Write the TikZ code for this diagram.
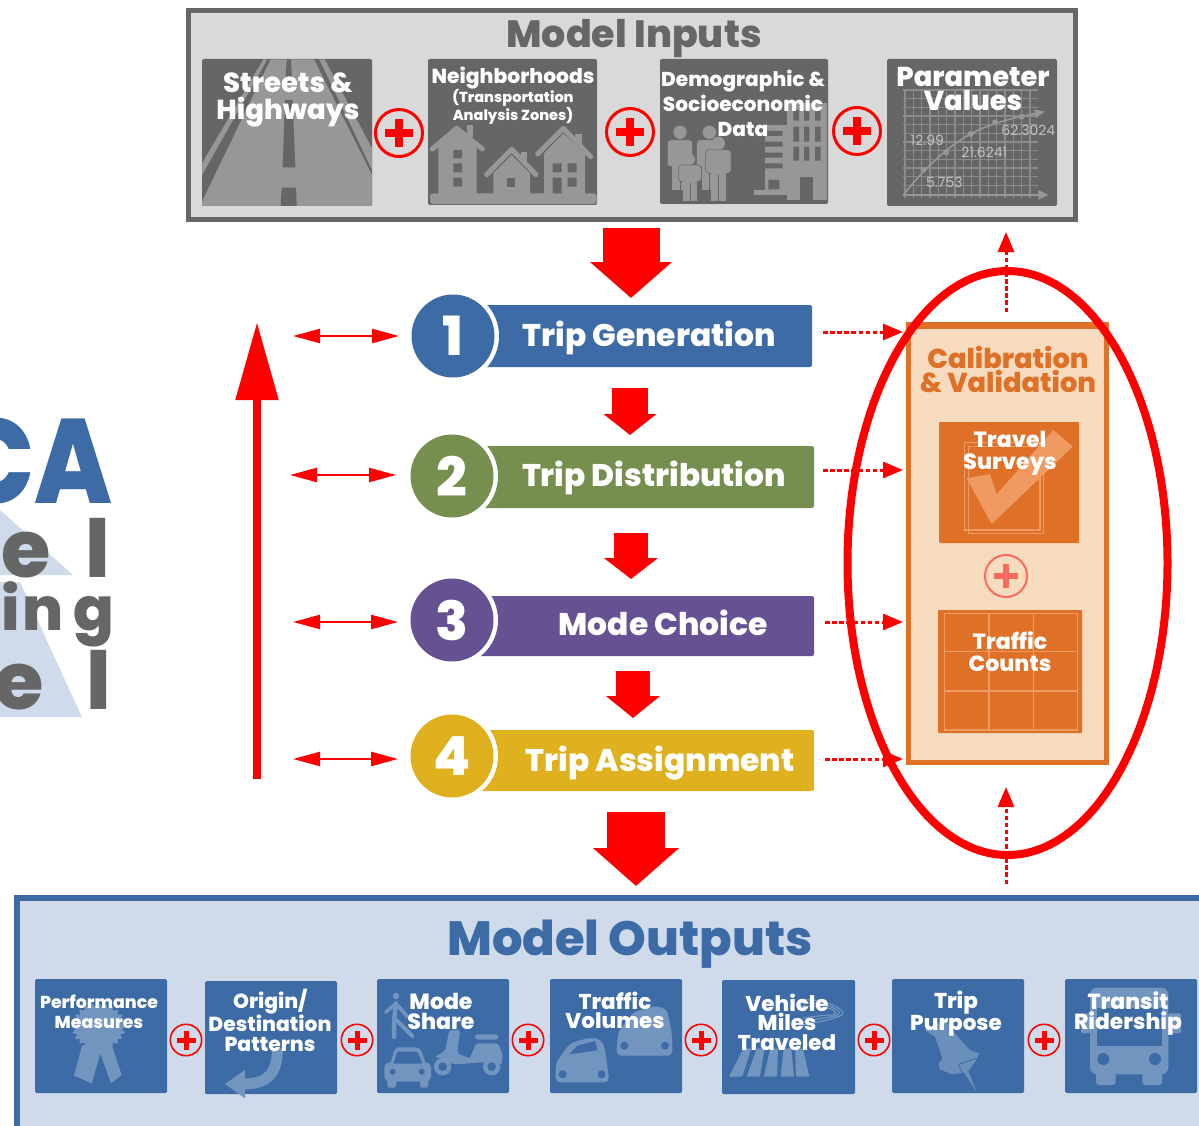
\documentclass[tikz,border=0pt]{standalone}
\usepackage{graphicx}
\usepackage{fontspec}
\setmainfont{Poppins}[BoldFont={Poppins ExtraBold}]
\usetikzlibrary{arrows.meta,shapes.geometric}
\definecolor{ingray}{HTML}{666666}
\definecolor{inbg}{HTML}{D9D9D9}
\definecolor{inicon}{HTML}{979797}
\definecolor{outblue}{HTML}{3D6BA5}
\definecolor{outbg}{HTML}{CFDAEA}
\definecolor{outicon}{HTML}{7295BF}
\definecolor{stepgreen}{HTML}{768F4F}
\definecolor{steppurple}{HTML}{665292}
\definecolor{stepyellow}{HTML}{E0B11F}
\definecolor{calorange}{HTML}{DF7027}
\definecolor{calbg}{HTML}{F6DBBF}
\definecolor{calicon}{HTML}{EE9A60}
\definecolor{calplus}{HTML}{FA6A5D}
\newcommand\sz[2]{\fontsize{#1}{#2}\selectfont\bfseries}
\newcommand\boxnode[6]{\node[#1,anchor=north west,minimum width={(#5-#3)*1pt},minimum height={(#6-#4)*1pt}] (#2) at (#3,#4) {};}
% name, x, y, radius, ring width, arm half length, arm half thickness, colour
\newcommand\plusmark[8]{%
  \node[circle,draw=#8,line width=#5pt,minimum size={(2*#4-#5)*1pt},inner sep=0pt,outer sep=0pt] (#1) at (#2,#3) {};
  \fill[#8] ({#2-#6},{#3-#7}) rectangle ({#2+#6},{#3+#7});
  \fill[#8] ({#2-#7},{#3-#6}) rectangle ({#2+#7},{#3+#6});}
\newcommand\personfig[7]{% cx, heady, r, halfwidth, torsotop, torsobottom, feet
  \fill[inicon] (#1,#2) circle[radius=#3];
  \filldraw[fill=inicon,draw=ingray,line width=.5pt,rounded corners=3pt] ({#1-#4},#5) rectangle ({#1+#4},#6);
  \fill[inicon] ({#1-.6*#4},{#6-4}) rectangle ({#1+.6*#4},#7);
  \draw[ingray,line width=.8pt] (#1,{#6+4}) -- (#1,#7);}
\tikzset{
  tileg/.style={fill=ingray,rounded corners=2pt,inner sep=0pt,outer sep=0pt},
  tileb/.style={fill=outblue,rounded corners=1.5pt,inner sep=0pt,outer sep=0pt},
  tileo/.style={fill=calorange,rounded corners=1pt,inner sep=0pt,outer sep=0pt},
  bigbox/.style={draw=#1,inner sep=0pt,outer sep=0pt},
  bar/.style={fill=#1,rounded corners=2pt,inner sep=0pt,outer sep=0pt},
  disc/.style={circle,fill=#1,minimum size=83pt,inner sep=0pt,outer sep=0pt},
  gap/.style={circle,fill=white,minimum size=92pt,inner sep=0pt},
  wlabel/.style={text=white,align=center,inner sep=0pt},
  steplabel/.style={text=white,inner sep=0pt,font=\sz{31.3}{36}},
  blockarrow/.style n args={3}{red,line width=#1pt,-{Triangle[length=#2pt,width=#3pt]}},
  twoway/.style={red,line width=2.4pt,{Triangle[length=27pt,width=14pt]}-{Triangle[length=27pt,width=14pt]}},
  dotarrow/.style={red,line width=3pt,dash pattern=on 4.5pt off 2.6pt,-{Triangle[length=20pt,width=16pt]}},
  Zone/.style={shift={(180,0)},x=0.33333pt,y=-0.33333pt},
  Ztwo/.style={shift={(650,0)},x=0.33333pt,y=-0.33333pt},
  Zthree/.style={shift={(840,300)},x=0.33333pt,y=-0.33333pt},
  Zfour/.style={shift={(0,960)},x=0.38270pt,y=-0.33333pt},
  Zfive/.style={shift={(600,960)},x=0.38270pt,y=-0.33333pt},
  Zsix/.style={shift={(370,975)},x=0.33333pt,y=-0.33333pt},
  Zseven/.style={shift={(885,975)},x=0.33333pt,y=-0.33333pt},
  chartnum/.style={text=inicon!60!white,inner sep=0pt,font=\fontsize{14}{16}\selectfont},
}
\begin{document}
\begin{tikzpicture}[x=1pt,y=-1pt]
\useasboundingbox (0,0) rectangle (1199,1126);

% ---------- left logo, cut by the page edge
\begin{scope}
\clip (0,400) rectangle (130,730);
\fill[outbg] (0,510) -- (73,575) -- (0,575) -- cycle;
\fill[outbg] (0,582) -- (20,582) -- (82,717) -- (0,717) -- cycle;
\node[anchor=base east,inner sep=0pt,text=outblue] (logoca) at (113,503) {\sz{120}{120}\scalebox{.86}[1]{CA}};
\node[anchor=base east,inner sep=0pt,text=ingray] (logoa) at (110.5,577) {\sz{80}{80}e\hspace{35pt}l};
\node[anchor=base east,inner sep=0pt,text=ingray] (logob) at (114,630) {\sz{60}{60}i\hspace{3pt}n\hspace{9pt}g};
\node[anchor=base east,inner sep=0pt,text=ingray] (logoc) at (111.5,709) {\sz{80}{80}e\hspace{43pt}l};
\end{scope}

% ---------- Model Inputs
\boxnode{bigbox=ingray,fill=inbg,line width=5pt}{inputs}{188.5}{10.5}{1075.5}{219.5}
\node[text=ingray,inner sep=0pt,font=\sz{38}{40}] (inputstitle) at (634,39) {Model Inputs};
\boxnode{tileg}{tstreets}{202}{59}{372}{206}
\boxnode{tileg}{tneigh}{428}{59}{597}{205}
\boxnode{tileg}{tdemo}{660}{59}{828}{204}
\boxnode{tileg}{tparam}{887}{59}{1057}{206}

\begin{scope}[Zone]
% road
\fill[inicon] (272,178) -- (402,178) -- (576,525) -- (576,618) -- (66,618) -- (66,605) -- cycle;
\fill[inicon] (250,178) -- (262,178) -- (66,525) -- (66,490) -- cycle;
\fill[inicon] (418,178) -- (434,178) -- (576,445) -- (576,510) -- cycle;
\fill[ingray] (320,178) -- (333,178) -- (337,250) -- (316,250) -- cycle;
\fill[ingray] (315,300) -- (338,300) -- (346,502) -- (308,502) -- cycle;
\fill[ingray] (305,563) -- (348,563) -- (350,618) -- (302,618) -- cycle;
% houses
\fill[inicon,rounded corners=3pt] (750,580) rectangle (1250,612);
\fill[inicon] (860,375) rectangle (878,410);
\fill[inicon] (775,440) -- (830,395) -- (890,440) -- (890,585) -- (775,585) -- cycle;
\draw[inicon,line width=5pt,line cap=round,line join=round] (757,447) -- (830,385) -- (907,447);
\fill[ingray] (820,450) rectangle (846,475) (820,490) rectangle (846,517) (820,533) rectangle (846,560);
\fill[inicon] (1022,455) rectangle (1042,485);
\fill[inicon] (940,520) -- (995,465) -- (1050,520) -- (1050,585) -- (940,585) -- cycle;
\draw[inicon,line width=5pt,line cap=round,line join=round] (920,524) -- (995,448) -- (1068,524);
\fill[ingray] (982,533) rectangle (1006,560);
\fill[inicon] (1185,403) rectangle (1205,435);
\fill[inicon] (1092,460) -- (1150,400) -- (1215,460) -- (1215,585) -- (1092,585) -- cycle;
\draw[inicon,line width=5pt,line cap=round,line join=round] (1073,462) -- (1150,385) -- (1232,470);
\fill[ingray] (1118,490) rectangle (1145,517) (1163,490) rectangle (1190,517) (1118,533) rectangle (1145,580) (1163,533) rectangle (1190,560);
\end{scope}

\begin{scope}[Ztwo]
% people
\personfig{90}{397}{20}{38}{420}{500}{570}
\personfig{178}{397}{20}{38}{420}{500}{570}
\personfig{205}{430}{20}{38}{450}{520}{602}
\personfig{120}{478}{16}{34}{495}{545}{602}
% buildings
\fill[inicon] (345,375) rectangle (412,575);
\fill[ingray] (345,393) rectangle (398,408) (345,425) rectangle (398,440) (345,458) rectangle (398,473) (345,490) rectangle (398,505) (355,540) rectangle (388,568);
\fill[inicon] (312,570) rectangle (412,585);
\fill[inicon] (410,310) rectangle (531,600);
\fill[ingray] (430,330) rectangle (447,362) (462,330) rectangle (478,362) (495,330) rectangle (512,362);
\fill[ingray] (430,380) rectangle (447,425) (462,380) rectangle (478,425) (495,380) rectangle (512,425);
\fill[ingray] (430,440) rectangle (447,482) (462,440) rectangle (478,482) (495,440) rectangle (512,482);
\fill[ingray] (450,530) rectangle (490,600);
% chart
\foreach \gx in {765,790,...,1160} \draw[inicon!75!ingray,line width=1.4pt] (\gx,268) -- (\gx,595);
\foreach \gy in {270,296,...,580} \draw[inicon!75!ingray,line width=1.4pt] (760,\gy) -- (1165,\gy);
\draw[inicon,line width=2pt,-{Triangle[length=10pt,width=9pt]}] (760,585) -- (1195,585);
\draw[inicon,line width=1.6pt,-{Triangle[length=10pt,width=8pt]}] (760,585) .. controls (815,515) and (890,440) .. (962,402) .. controls (1030,365) and (1110,350) .. (1185,335);
\foreach \dx/\dy in {820/510,888/457,962/402,1035/367,1115/350} \fill[inicon] (\dx,\dy) circle[radius=9];
\node[chartnum] (numa) at (832,421) {12.99};
\node[chartnum] (numb) at (1003,457) {21.6241};
\node[chartnum] (numc) at (1135,392) {62.3024};
\node[chartnum] (numd) at (883,548) {5.753};
\end{scope}

\node[wlabel,font=\sz{27.5}{27}] (lstreets) at (288,100) {Streets \&\\Highways};
\node[wlabel,font=\sz{20.3}{20}] (lneigh) at (513,78) {Neighborhoods};
\node[wlabel,font=\sz{14.5}{18}] (lneighb) at (513,107) {(Transportation\\Analysis Zones)};
\node[wlabel,font=\sz{20.1}{25}] (ldemo) at (743,103) {Demographic \&\\Socioeconomic\\Data};
\node[wlabel,font=\sz{27.3}{24}] (lparam) at (973,89) {Parameter\\Values};

\plusmark{pa}{399}{133}{25}{3}{14}{3.6}{red}
\plusmark{pb}{630}{132}{25}{3}{14}{3.6}{red}
\plusmark{pc}{857}{131}{25}{3}{14}{3.6}{red}

% ---------- Steps
\foreach \nm/\ya/\yb/\xe/\col in {stepone/305/367/812/outblue,steptwo/446/508/814/stepgreen,stepthree/596/656/814/steppurple,stepfour/730/791/814/stepyellow}{
  \boxnode{bar=\col}{\nm}{470}{\ya}{\xe}{\yb}
}
\node[gap] (gapa) at (453,336) {};
\node[gap] (gapb) at (452,476) {};
\node[gap] (gapc) at (452,620) {};
\node[gap] (gapd) at (452,756) {};
\node[disc=outblue,text=white,font=\sz{54}{54}] (numone) at (453,336) {1};
\node[disc=stepgreen,text=white,font=\sz{54}{54}] (numtwo) at (452,476) {2};
\node[disc=steppurple,text=white,font=\sz{54}{54}] (numthree) at (452,620) {3};
\node[disc=stepyellow,text=white,font=\sz{54}{54}] (numfour) at (452,756) {4};
\node[steplabel] (lone) at (649,338) {Trip Generation};
\node[steplabel] (ltwo) at (654,478) {Trip Distribution};
\node[steplabel] (lthree) at (663,623) {Mode Choice};
\node[steplabel] (lfour) at (660,763) {Trip Assignment};

% ---------- Calibration
\boxnode{bigbox=calorange,fill=calbg,line width=5pt}{calib}{908.5}{325}{1106.5}{762.5}
\fill[calorange] (906,322) rectangle (1109,329);
\node[text=calorange,align=center,inner sep=0pt,font=\sz{27.3}{24}] (lcalib) at (1008,370) {Calibration\\\&~Validation};
\boxnode{tileo}{tsurvey}{939}{422}{1079}{543}
\boxnode{tileo}{tcounts}{938}{610}{1082}{733}
\begin{scope}[Zthree]
\draw[calicon,line width=1.2pt] (385,440) rectangle (610,700);
\draw[calicon,line width=1.2pt] (373,428) rectangle (600,690);
\fill[calicon] (380,535) -- (450,522) -- (470,583) -- (640,390) -- (698,440) -- (455,672) -- cycle;
\draw[calicon,line width=1.3pt] (314,940) rectangle (712,1290);
\foreach \gx in {447,580} \draw[calicon,line width=1.3pt] (\gx,940) -- (\gx,1290);
\foreach \gy in {1055,1173} \draw[calicon,line width=1.3pt] (314,\gy) -- (712,\gy);
\end{scope}
\node[wlabel,font=\sz{22}{22}] (lsurvey) at (1010,453) {Travel\\Surveys};
\node[wlabel,font=\sz{22}{22}] (lcounts) at (1010,652) {Traffic\\Counts};
\plusmark{pd}{1006}{576}{22}{2}{12}{3}{calplus}

% ---------- Model Outputs
\boxnode{bigbox=outblue,fill=outbg,line width=6pt}{outputs}{17}{898}{1210}{1140}
\node[text=outblue,inner sep=0pt,font=\sz{48}{50}] (outputstitle) at (630,944) {Model Outputs};
\boxnode{tileb}{tperf}{35}{979}{167}{1093}
\boxnode{tileb}{torigin}{205}{981}{337}{1094}
\boxnode{tileb}{tmode}{377}{979}{509}{1093}
\boxnode{tileb}{tvol}{550}{979}{682}{1093}
\boxnode{tileb}{tvmt}{722}{980}{855}{1094}
\boxnode{tileb}{tpurp}{892}{979}{1024}{1093}
\boxnode{tileb}{ttrans}{1065}{979}{1197}{1093}

\begin{scope}[Zfour]
% ribbon
\fill[outicon] plot[domain=0:360,samples=145] ({258+(66+5*cos(24*\x))*cos(\x)},{200+(66+5*cos(24*\x))*sin(\x)});
\fill[outicon] (215,255) -- (193,347) -- (240,370) -- (262,280) -- (290,370) -- (318,345) -- (292,255) -- cycle;
% u-turn arrow
\draw[outicon,line width=11pt] (725,265) .. controls (725,345) and (695,372) .. (635,372);
\fill[outicon] (588,372) -- (640,330) -- (640,415) -- cycle;
\end{scope}

\begin{scope}[Zsix]
% pedestrian
\fill[outicon] (78,63) circle[radius=10];
\draw[outicon,line width=3.5pt,line cap=round,line join=round] (47,112) -- (78,85) -- (112,125);
\draw[outicon,line width=4.5pt,line cap=round,line join=round] (78,85) -- (72,135) -- (72,186);
\draw[outicon,line width=4pt,line cap=round,line join=round] (74,130) -- (127,183);
% car, front view
\fill[outicon,rounded corners=4pt] (60,272) -- (75,217) -- (150,217) -- (170,272) -- cycle;
\fill[outicon,rounded corners=5pt] (43,262) rectangle (183,320);
\fill[outicon,rounded corners=2pt] (52,312) rectangle (78,338) (150,312) rectangle (175,338);
\fill[outblue] (70,266) -- (82,230) -- (142,230) -- (158,266) -- cycle;
\fill[outblue] (68,290) circle[radius=9] (155,290) circle[radius=9];
% scooter
\fill[outicon,rounded corners=2pt] (238,165) -- (270,165) -- (262,235) -- (300,250) -- (318,205) -- (385,205) -- (398,240) -- (395,268) -- (340,262) -- (250,268) -- (230,258) -- (195,245) -- (225,228) -- cycle;
\fill[outicon,rounded corners=3pt] (315,178) rectangle (385,194);
\fill[outicon] (218,275) circle[radius=26] (365,275) circle[radius=26];
\fill[outblue] (218,275) circle[radius=13] (365,275) circle[radius=13];
% bubble cars
\fill[outicon,rounded corners=5pt] (556,322) -- (558,262) -- (600,205) -- (650,190) -- (690,190) -- (705,220) -- (718,322) -- cycle;
\fill[outblue] (598,238) -- (622,212) -- (676,198) -- (682,226) -- cycle;
\fill[outblue] (578,298) circle[radius=12] (695,298) circle[radius=12];
\fill[outicon,rounded corners=5pt] (738,242) -- (745,170) -- (790,112) -- (850,93) -- (890,100) -- (905,170) -- (908,242) -- cycle;
\fill[outblue] (763,212) circle[radius=12] (885,212) circle[radius=12];
\end{scope}

\begin{scope}[Zfive]
% road
\foreach \ta/\ba in {375/337,410/383,445/428,480/472,510/512}
  \fill[outicon,rounded corners=1pt] (\ta,265) -- ({\ta+20},265) -- ({\ba+35},350) -- (\ba,350) -- cycle;
\foreach \q in {0,10,20}
  \draw[outicon,line width=1.2pt] (520,{118+\q}) .. controls (600,{118+\q}) and ({635-\q},150) .. ({635-\q},158) .. controls ({635-\q},170) and (600,{180-\q}) .. (530,{195-\q});
\end{scope}

\begin{scope}[Zseven]
% push pin
\fill[outicon!85!outblue] (118,165) -- (180,135) -- (212,178) -- (255,225) -- (282,235) -- (272,258) -- (250,288) -- (275,352) -- (238,293) -- (200,298) -- (165,283) -- (160,268) -- (172,250) -- (150,185) -- cycle;
\draw[outblue,line width=.8pt] (220,268) -- (274,250);
\draw[outblue,line width=.8pt] (220,268) -- (232,293);
% bus
\fill[outicon,rounded corners=7pt] (615,38) rectangle (850,298);
\fill[outicon,rounded corners=3pt] (633,285) rectangle (692,330) (772,285) rectangle (831,330);
\fill[outicon,rounded corners=2pt] (588,115) rectangle (615,175) (850,115) rectangle (888,175);
\fill[outblue] (635,100) rectangle (830,212);
\fill[outblue] (655,252) circle[radius=18] (810,252) circle[radius=18];
\end{scope}

\node[wlabel,font=\sz{17.3}{20}] (lperf) at (99,1012) {Performance\\Measures};
\node[wlabel,font=\sz{20.3}{20}] (lorigin) at (270,1020) {Origin/\\Destination\\Patterns};
\node[wlabel,font=\sz{22}{20}] (lmode) at (441,1011) {Mode\\Share};
\node[wlabel,font=\sz{21.4}{19}] (lvol) at (615,1010) {Traffic\\Volumes};
\node[wlabel,font=\sz{21.4}{19.5}] (lvmt) at (787,1022) {Vehicle\\Miles\\Traveled};
\node[wlabel,font=\sz{21.5}{20}] (lpurp) at (956,1014) {Trip\\Purpose};
\node[wlabel,font=\sz{21.8}{20}] (ltrans) at (1128,1014) {Transit\\Ridership};

\plusmark{oa}{186}{1040}{16.5}{1.6}{9.5}{2.5}{red}
\plusmark{ob}{357}{1040}{16.5}{1.6}{9.5}{2.5}{red}
\plusmark{oc}{528}{1040}{16.5}{1.6}{9.5}{2.5}{red}
\plusmark{od}{701}{1040}{16.5}{1.6}{9.5}{2.5}{red}
\plusmark{oe}{874}{1040}{16.5}{1.6}{9.5}{2.5}{red}
\plusmark{of}{1044}{1040}{16.5}{1.6}{9.5}{2.5}{red}

% ---------- connectors
\coordinate (baA) at (631,228); \coordinate (baB) at (631,298);
\coordinate (bbA) at (630,388); \coordinate (bbB) at (630,435);
\coordinate (bcA) at (631,533); \coordinate (bcB) at (631,579);
\coordinate (bdA) at (633,671); \coordinate (bdB) at (633,718);
\coordinate (beA) at (636,812); \coordinate (beB) at (636,886);
\draw[blockarrow={57}{36}{80}] (baA) -- (baB);
\draw[blockarrow={36}{21}{52}] (bbA) -- (bbB);
\draw[blockarrow={34}{21}{53}] (bcA) -- (bcB);
\draw[blockarrow={34}{22}{53}] (bdA) -- (bdB);
\draw[blockarrow={58}{38}{84}] (beA) -- (beB);

\coordinate (upA) at (257,779); \coordinate (upB) at (257,322);
\draw[red,line width=8.5pt,-{Triangle[length=78pt,width=41pt]}] (upA) -- (upB);

\coordinate (dlA) at (293,336); \coordinate (drA) at (399,336);
\coordinate (dlB) at (290,475); \coordinate (drB) at (396,475);
\coordinate (dlC) at (293,622); \coordinate (drC) at (398,622);
\coordinate (dlD) at (293,759); \coordinate (drD) at (398,759);
\draw[twoway] (dlA) -- (drA);
\draw[twoway] (dlB) -- (drB);
\draw[twoway] (dlC) -- (drC);
\draw[twoway] (dlD) -- (drD);

\coordinate (doA) at (823,332); \coordinate (deA) at (903,332);
\coordinate (doB) at (823,470); \coordinate (deB) at (903,470);
\coordinate (doC) at (825,622); \coordinate (deC) at (903,622);
\coordinate (doD) at (825,759); \coordinate (deD) at (903,759);
\draw[dotarrow] (doA) -- (deA);
\draw[dotarrow] (doB) -- (deB);
\draw[dotarrow] (doC) -- (deC);
\draw[dotarrow] (doD) -- (deD);

\node[ellipse,draw=red,line width=8pt,minimum width=320pt,minimum height=584pt,inner sep=0pt] (loop) at (1007.5,563) {};
\coordinate (vaA) at (1006,312); \coordinate (vaB) at (1006,232);
\coordinate (vbA) at (1006,884); \coordinate (vbB) at (1006,787);
\draw[dotarrow] (vaA) -- (vaB);
\draw[dotarrow] (vbA) -- (vbB);
\end{tikzpicture}
\end{document}
